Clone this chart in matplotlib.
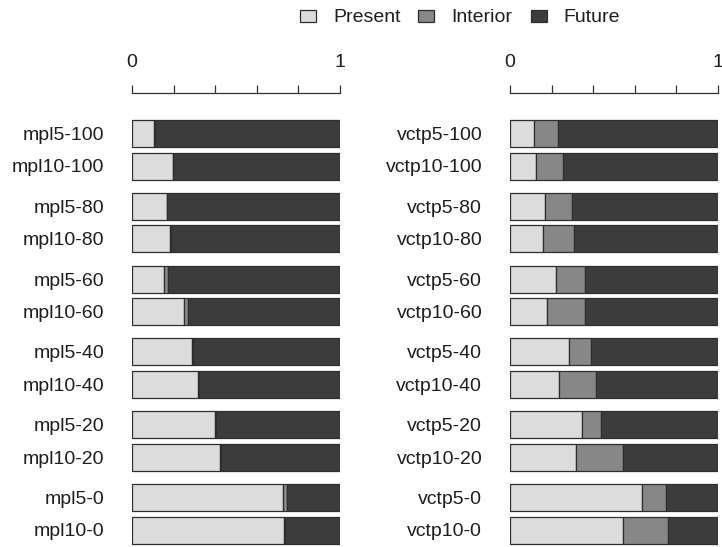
import numpy as np
import matplotlib.pyplot as plt
from matplotlib.patches import Patch

plt.rcParams['font.family'] = ['Liberation Sans', 'DejaVu Sans']

# categories, top to bottom
mpl_labels = ['mpl5-100', 'mpl10-100', 'mpl5-80', 'mpl10-80', 'mpl5-60', 'mpl10-60',
              'mpl5-40', 'mpl10-40', 'mpl5-20', 'mpl10-20', 'mpl5-0', 'mpl10-0']
vctp_labels = ['vctp5-100', 'vctp10-100', 'vctp5-80', 'vctp10-80', 'vctp5-60', 'vctp10-60',
               'vctp5-40', 'vctp10-40', 'vctp5-20', 'vctp10-20', 'vctp5-0', 'vctp10-0']

# fractions (present, interior); future is the rest
mpl_present = [0.107, 0.196, 0.167, 0.184, 0.155, 0.252, 0.290, 0.317, 0.400, 0.425, 0.728, 0.731]
mpl_interior = [0.004, 0.003, 0.003, 0.003, 0.018, 0.016, 0.004, 0.003, 0.003, 0.003, 0.018, 0.005]
vctp_present = [0.114, 0.125, 0.168, 0.157, 0.221, 0.179, 0.284, 0.234, 0.348, 0.319, 0.635, 0.542]
vctp_interior = [0.118, 0.128, 0.129, 0.149, 0.141, 0.182, 0.105, 0.181, 0.089, 0.223, 0.115, 0.219]

series_names = ['Present', 'Interior', 'Future']
colors = ['#dcdcdc', '#878787', '#3c3c3c']
edge = '#2e2e2e'
txt = '#1e1e1e'
fs = 14

W, H = 722, 547
fig = plt.figure(figsize=(W / 100, H / 100), dpi=100)

# pixel layout
ax_top, ax_bot = 93, 547
grp = 72.8
bar_h = 27 / grp
first_top = (120 - ax_top) / grp
pair_off = 32.5 / grp
ylim_max = (ax_bot - ax_top) / grp

n = len(mpl_labels)
ys = np.array([first_top + i // 2 + (i % 2) * pair_off + bar_h / 2 for i in range(n)])


def panel(x0, labels, present, interior):
    ax = fig.add_axes([x0 / W, 1 - ax_bot / H, 208 / W, (ax_bot - ax_top) / H])
    present = np.array(present)
    interior = np.array(interior)
    future = 1 - present - interior
    left = np.zeros(n)
    for vals, c in zip([present, interior, future], colors):
        ax.barh(ys, vals, left=left, height=bar_h, color=c, edgecolor=edge, linewidth=0.9)
        left = left + vals
    ax.set_xlim(0, 1)
    ax.set_ylim(ylim_max, 0)
    ax.set_yticks(ys)
    ax.set_yticklabels(labels, fontsize=fs, color=txt)
    ax.tick_params(axis='y', length=0, pad=20)
    ax.xaxis.tick_top()
    ax.set_xticks(np.linspace(0, 1, 6))
    ax.set_xticklabels(['0', '', '', '', '', '1'], fontsize=fs, color=txt)
    ax.tick_params(axis='x', direction='out', length=5.5, width=0.9, color='#333333', pad=10)
    for s in ['left', 'right', 'bottom']:
        ax.spines[s].set_visible(False)
    ax.spines['top'].set_color('#333333')
    ax.spines['top'].set_linewidth(0.9)
    ax.set_facecolor('none')
    return ax


panel(132, mpl_labels, mpl_present, mpl_interior)
panel(510, vctp_labels, vctp_present, vctp_interior)

handles = [Patch(facecolor=c, edgecolor=edge, linewidth=0.9) for c in colors]
fig.legend(handles, series_names, loc='center', bbox_to_anchor=(460 / W, 1 - 18 / H),
           ncol=3, frameon=False, fontsize=fs, handlelength=0.82, handleheight=0.57,
           handletextpad=0.88, columnspacing=0.93, labelcolor=txt)

fig.savefig('out.png', dpi=100)
